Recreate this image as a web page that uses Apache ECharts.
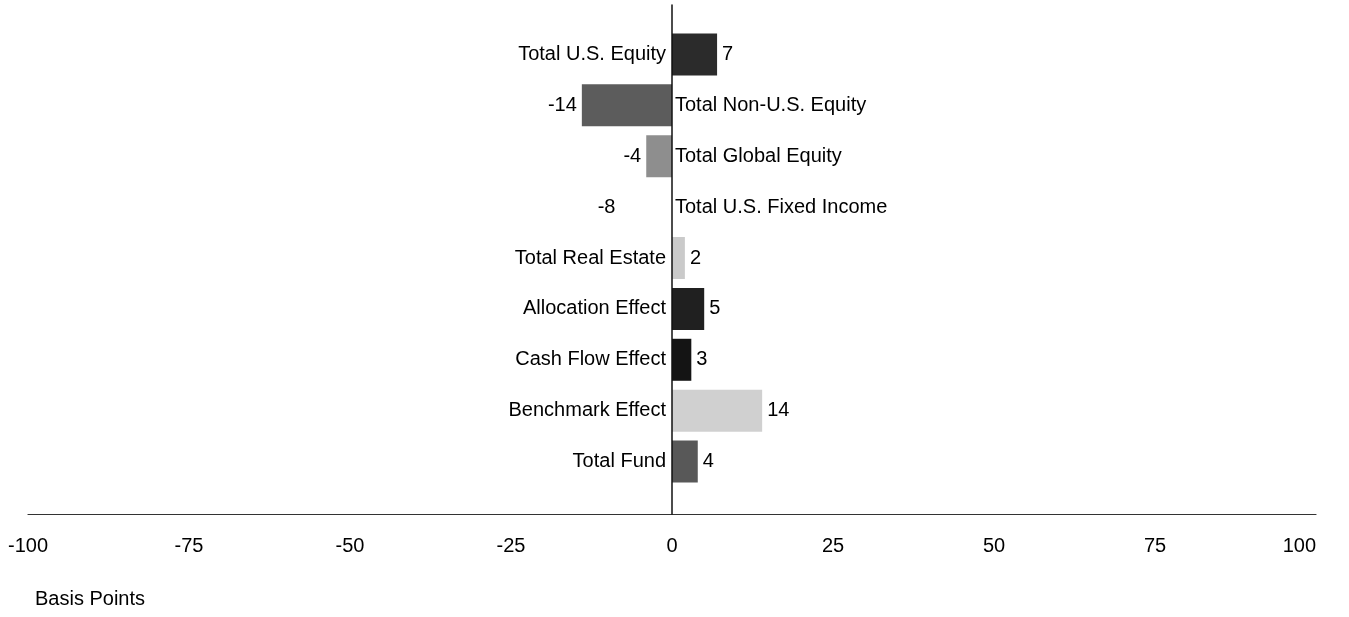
<!DOCTYPE html>
<html>
<head>
    <meta charset="utf-8" />
    <script src="https://cdn.jsdelivr.net/npm/echarts@6/dist/echarts.min.js"></script>
    <style>
        html, body { margin: 0; padding: 0; background: #fff; }
    </style>
</head>
<body>
<div id="main" style="width: 1349px;height:617px;"></div>

<script>
    // categories, top to bottom
    var categories = [
        'Total U.S. Equity',
        'Total Non-U.S. Equity',
        'Total Global Equity',
        'Total U.S. Fixed Income',
        'Total Real Estate',
        'Allocation Effect',
        'Cash Flow Effect',
        'Benchmark Effect',
        'Total Fund'
    ];
    var values = [7, -14, -4, -8, 2, 5, 3, 14, 4];
    var barColors = ['#2b2b2b', '#5c5c5c', '#8e8e8e', '#ffffff', '#cacaca', '#202020', '#141414', '#d0d0d0', '#585858'];
    var xTicks = [-100, -75, -50, -25, 0, 25, 50, 75, 100];
    var axisTitle = 'Basis Points';

    var font = "'Liberation Sans', Arial, sans-serif";
    var chartDom = document.getElementById('main');
    var myChart = echarts.init(chartDom);

    var valueData = values.map(function(v, i) {
        return {
            value: v,
            itemStyle: { color: barColors[i] },
            label: { position: v < 0 ? 'left' : 'right', distance: 5 }
        };
    });
    var nameData = values.map(function(v, i) {
        return {
            value: v,
            label: { position: v < 0 ? 'right' : 'left', distance: v < 0 ? 3 : 6 }
        };
    });

    var option = {
        animation: false,
        backgroundColor: '#fff',
        title: {
            text: axisTitle,
            left: 35,
            top: 589,
            padding: 0,
            textStyle: { fontFamily: font, fontSize: 20, fontWeight: 'normal', color: '#000' }
        },
        grid: [
            { left: 28, right: 33, top: 29, height: 458 },
            { left: 28, right: 33, top: 5, bottom: 103 }
        ],
        xAxis: [{
            gridIndex: 0,
            type: 'value',
            min: -100,
            max: 100,
            interval: 25,
            show: false
        }, {
            gridIndex: 1,
            type: 'value',
            min: xTicks[0],
            max: xTicks[xTicks.length - 1],
            interval: 25,
            axisLine: { show: true, onZero: false, lineStyle: { color: '#333', width: 1.2 } },
            axisTick: { show: false },
            splitLine: { show: false },
            axisLabel: {
                margin: 22,
                fontFamily: font,
                fontSize: 20,
                color: '#000',
                alignMaxLabel: 'right'
            }
        }],
        yAxis: [{
            gridIndex: 0,
            type: 'category',
            inverse: true,
            data: categories,
            axisLine: { show: false },
            axisTick: { show: false },
            axisLabel: { show: false },
            splitLine: { show: false }
        }, {
            gridIndex: 1,
            type: 'value',
            min: 0,
            max: 1,
            z: 10,
            axisLine: { show: true, onZero: true, lineStyle: { color: '#111', width: 1.5 } },
            axisTick: { show: false },
            axisLabel: { show: false },
            splitLine: { show: false }
        }],
        series: [{
            type: 'bar',
            xAxisIndex: 0,
            yAxisIndex: 0,
            barWidth: 42,
            data: valueData,
            label: {
                show: true,
                fontFamily: font,
                fontSize: 20,
                color: '#000'
            }
        }, {
            type: 'bar',
            xAxisIndex: 0,
            yAxisIndex: 0,
            barWidth: 42,
            barGap: '-100%',
            itemStyle: { color: 'rgba(0,0,0,0)' },
            data: nameData,
            label: {
                show: true,
                fontFamily: font,
                fontSize: 20,
                color: '#000',
                formatter: function(p) { return categories[p.dataIndex]; }
            }
        }]
    };

    option && myChart.setOption(option);
</script>
</body>
</html>
